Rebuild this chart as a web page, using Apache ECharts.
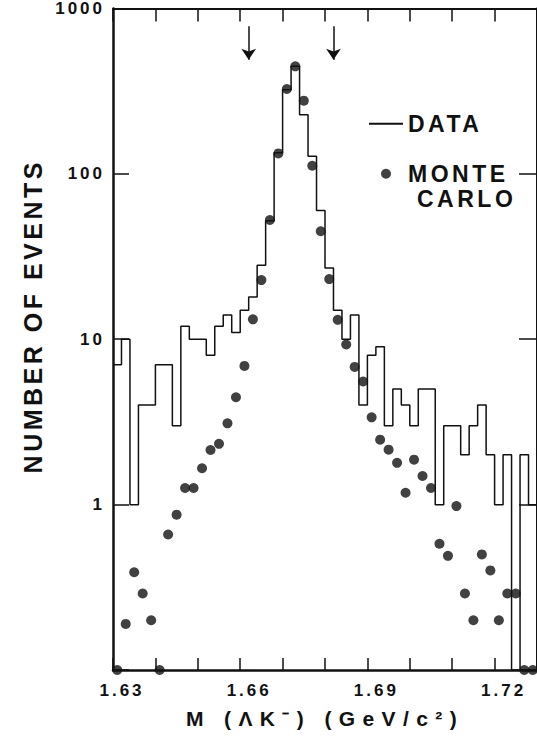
<!DOCTYPE html>
<html>
<head>
<meta charset="utf-8">
<script src="https://cdn.jsdelivr.net/npm/echarts@6.0.0/dist/echarts.min.js"></script>
<style>
  html, body { margin: 0; padding: 0; background: #fff; }
  #chart { width: 537px; height: 736px; }
</style>
</head>
<body>
<div id="chart"></div>
<script>
// Histogram binning: 2 MeV/c^2 bins starting at 1.630 GeV/c^2
const binStart = 1.630;
const binWidth = 0.002;

// Observed events per bin
const dataCounts = [
  7, 10, 1, 4, 4, 7, 7, 3, 12, 10,
  10, 8, 12, 14, 11, 15, 18, 28, 52, 134,
  323, 447, 228, 128, 60, 27, 15, 10, 14, 4,
  8, 9, 3, 5, 4, 3, 5, 5, 1, 3,
  3, 2, 3, 4, 2, 1, 2, 0, 2, 1
];

// Monte Carlo expectation per bin (normalised to the data)
const mcCounts = [
  0, 0.19, 0.39, 0.29, 0.2, 0, 0.66, 0.87, 1.26, 1.26,
  1.66, 2.14, 2.33, 3.1, 4.46, 6.9, 13.2, 22.8, 52.6, 133,
  326, 447, 277, 112, 45, 23.1, 13.1, 9.3, 6.8, 5.55,
  3.37, 2.47, 2.15, 1.79, 1.18, 1.87, 1.49, 1.26, 0.58, 0.49,
  0.98, 0.29, 0.2, 0.5, 0.4, 0.2, 0.29, 0.29, 0, 0
];

// Axes
const massRange = [1.63, 1.73];
const massTickStep = 0.01;
const massLabels = [1.63, 1.66, 1.69, 1.72];
const eventsRange = [0.1, 1000];

// Mass window markers (arrows) and their vertical extent in events
const cutMasses = [1.662, 1.682];
const cutArrowSpan = [780, 490];

const xTitle = 'M (\u039BK\u207B) (GeV/c\u00B2)';
const yTitle = 'NUMBER OF EVENTS';

const ink = '#111';
const font = "'Liberation Sans', Arial, sans-serif";

// Empty bins cannot sit on a log scale; put them on the axis floor.
const floorValue = eventsRange[0];
const onLog = v => (v > 0 ? v : floorValue);

const edge = i => +(binStart + i * binWidth).toFixed(3);
const dataLine = dataCounts.map((v, i) => [edge(i), onLog(v)]);
dataLine.push([edge(dataCounts.length), onLog(dataCounts[dataCounts.length - 1])]);
const mcPoints = mcCounts.map((v, i) => [+(binStart + (i + 0.5) * binWidth).toFixed(4), onLog(v)]);

const textBase = { fontFamily: font, color: ink, fontWeight: 'bold' };

const chart = echarts.init(document.getElementById('chart'), null, { renderer: 'svg' });

chart.setOption({
  animation: false,
  backgroundColor: '#fff',
  grid: { left: 113, top: 7, width: 428, height: 663 },
  xAxis: [
    {
      type: 'value', position: 'bottom',
      min: massRange[0], max: massRange[1], interval: massTickStep,
      name: xTitle, nameLocation: 'middle', nameGap: 38,
      nameTextStyle: Object.assign({ fontSize: 21 }, textBase),
      axisLine: { show: true, lineStyle: { color: ink, width: 2.5 } },
      axisTick: { inside: true, length: 12, lineStyle: { color: ink, width: 1.5 } },
      axisLabel: Object.assign({
        customValues: massLabels,
        formatter: v => v.toFixed(2),
        margin: 12, fontSize: 17,
        padding: [0, 0, 0, 18]
      }, textBase),
      splitLine: { show: false }
    },
    {
      type: 'value', position: 'top',
      min: massRange[0], max: massRange[1], interval: massTickStep,
      axisLine: { show: true, lineStyle: { color: ink, width: 2 } },
      axisTick: { inside: true, length: 13, lineStyle: { color: ink, width: 1.5 } },
      axisLabel: { show: false },
      splitLine: { show: false }
    }
  ],
  yAxis: [
    {
      type: 'log', logBase: 10, position: 'left',
      min: eventsRange[0], max: eventsRange[1],
      name: yTitle, nameLocation: 'middle', nameGap: 68, nameRotate: 90,
      nameTextStyle: Object.assign({ fontSize: 25, padding: [0, 0, 0, 46] }, textBase),
      axisLine: { show: true, lineStyle: { color: ink, width: 2.5 } },
      axisTick: { inside: true, length: 16, lineStyle: { color: ink, width: 1.5 } },
      minorTick: { show: false },
      axisLabel: Object.assign({
        formatter: v => (v >= 1 ? String(Math.round(v)) : ''),
        margin: 8, fontSize: 17
      }, textBase),
      splitLine: { show: false }
    },
    {
      type: 'log', logBase: 10, position: 'right',
      min: eventsRange[0], max: eventsRange[1],
      axisLine: { show: true, lineStyle: { color: ink, width: 2 } },
      axisTick: { inside: true, length: 18, lineStyle: { color: ink, width: 1.5 } },
      axisLabel: { show: false },
      splitLine: { show: false }
    }
  ],
  legend: {
    orient: 'vertical', left: 368, top: 111, padding: 0,
    itemWidth: 34, itemHeight: 10, itemGap: -1,
    selectedMode: false,
    data: [
      { name: 'DATA', itemStyle: { opacity: 0 } },
      { name: 'MONTE CARLO', icon: 'circle', textStyle: { padding: [25.5, 0, 0, 0] } }
    ],
    formatter: name => (name === 'MONTE CARLO' ? '{a|MONTE}\n{b|CARLO}' : name),
    textStyle: Object.assign({
      fontSize: 23, lineHeight: 25.5,
      rich: { a: {}, b: { padding: [0, 0, 0, 9] } }
    }, textBase)
  },
  series: [
    {
      name: 'DATA', type: 'line', step: 'end',
      data: dataLine, symbol: 'none',
      lineStyle: { color: ink, width: 1.5 },
      itemStyle: { color: ink },
      markLine: {
        silent: true, symbol: ['none', 'arrow'], symbolSize: 11,
        lineStyle: { color: ink, width: 1.5, type: 'solid' },
        label: { show: false },
        data: cutMasses.map(m => [{ coord: [m, cutArrowSpan[0]] }, { coord: [m, cutArrowSpan[1]] }])
      }
    },
    {
      name: 'MONTE CARLO', type: 'scatter',
      data: mcPoints, symbol: 'circle', symbolSize: 10,
      itemStyle: { color: ink }, clip: false, z: 3
    }
  ]
});

// Hand-lettered look: open up the spacing between characters.
const trackingPx = { [xTitle]: 7.4, [yTitle]: 3.5 };
function applyTracking() {
  document.querySelectorAll('#chart text').forEach(t => {
    const s = t.textContent;
    let px = trackingPx[s];
    if (px === undefined) px = /^[\d.]+$/.test(s) ? 3 : 3.5;
    t.setAttribute('letter-spacing', px);
  });
}
applyTracking();
chart.on('finished', applyTracking);
</script>
</body>
</html>
